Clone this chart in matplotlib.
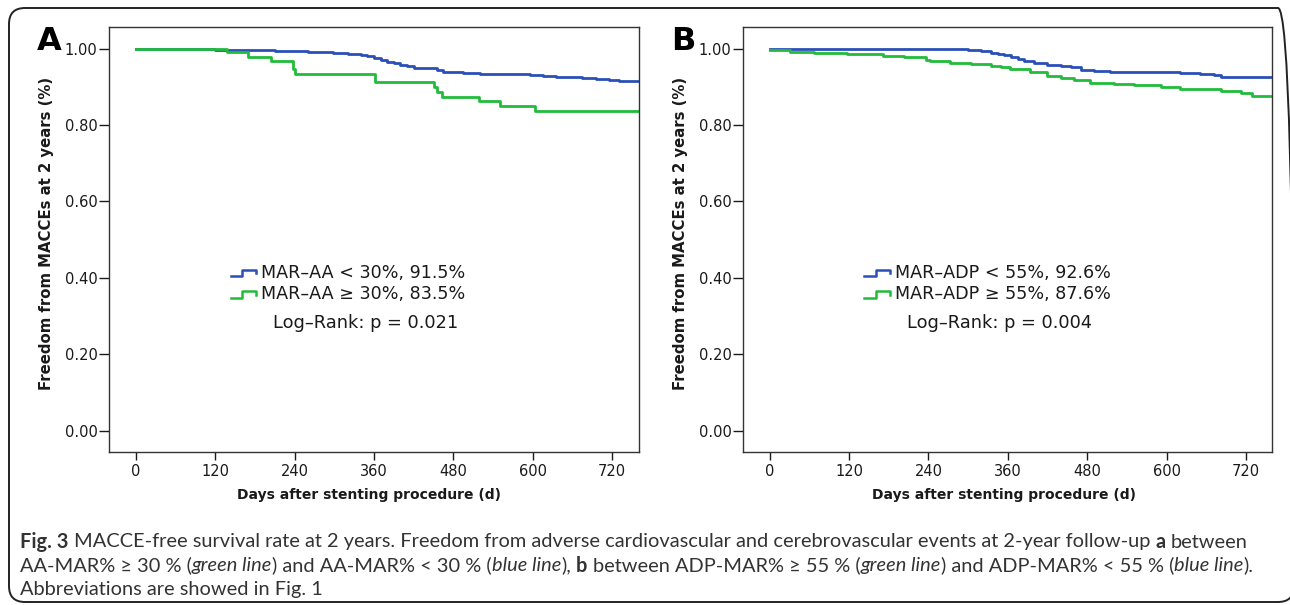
"""
Fig. 3 重绘：两组 Kaplan-Meier 曲线（MACCE-free survival）
"""
import numpy as np
import matplotlib
matplotlib.use('Agg')
import matplotlib.pyplot as plt
from matplotlib.lines import Line2D
from matplotlib.legend_handler import HandlerBase
from matplotlib.patches import FancyBboxPatch
from matplotlib.transforms import IdentityTransform

plt.rcParams['font.family'] = ['DejaVu Sans']

# ==================== 数据 ====================
# A: MAR-AA < 30% (blue) / >= 30% (green)
a_low_days = [0, 60, 120, 160, 210, 260, 298, 320, 340, 350, 360, 370, 380, 390, 400,
              410, 420, 445, 455, 465, 475, 495, 520, 545, 570, 595, 615, 635, 655,
              675, 695, 715, 730, 760]
a_low_surv = [1.000, 0.999, 0.997, 0.996, 0.994, 0.992, 0.990, 0.987, 0.983, 0.980,
              0.976, 0.971, 0.966, 0.962, 0.958, 0.954, 0.950, 0.949, 0.944, 0.940,
              0.938, 0.936, 0.935, 0.934, 0.933, 0.931, 0.929, 0.927, 0.925, 0.923,
              0.920, 0.918, 0.915, 0.915]
a_high_days = [0, 138, 169, 204, 237, 240, 361, 451, 455, 463, 519, 551, 604, 760]
a_high_surv = [1.000, 0.991, 0.979, 0.967, 0.946, 0.935, 0.912, 0.900, 0.887, 0.874,
               0.862, 0.850, 0.836, 0.836]

# B: MAR-ADP < 55% (blue) / >= 55% (green)
b_low_days = [0, 200, 280, 300, 320, 335, 345, 355, 365, 375, 385, 400, 420, 440, 455,
              470, 490, 515, 560, 600, 621, 650, 672, 682, 700, 760]
b_low_surv = [1.000, 0.999, 0.998, 0.996, 0.993, 0.990, 0.987, 0.983, 0.979, 0.974,
              0.969, 0.963, 0.957, 0.955, 0.952, 0.944, 0.942, 0.940, 0.939, 0.938,
              0.937, 0.934, 0.931, 0.927, 0.926, 0.926]
b_high_days = [0, 31, 67, 117, 172, 203, 236, 243, 273, 304, 334, 350, 364, 394, 420,
               440, 460, 485, 520, 551, 591, 621, 682, 712, 730, 760]
b_high_surv = [0.997, 0.992, 0.988, 0.985, 0.982, 0.978, 0.970, 0.967, 0.963, 0.959,
               0.955, 0.951, 0.947, 0.940, 0.929, 0.924, 0.918, 0.911, 0.908, 0.904,
               0.899, 0.894, 0.890, 0.885, 0.876, 0.876]

x_ticks = [0, 120, 240, 360, 480, 600, 720]
y_ticks = [0.0, 0.2, 0.4, 0.6, 0.8, 1.0]

legend_a = ['MAR\u2013AA < 30%, 91.5%', 'MAR\u2013AA \u2265 30%, 83.5%']
legend_b = ['MAR\u2013ADP < 55%, 92.6%', 'MAR\u2013ADP \u2265 55%, 87.6%']
pvals = ['Log\u2013Rank: p = 0.021', 'Log\u2013Rank: p = 0.004']

BLUE = '#2b4fb9'
GREEN = '#22bb3c'
TXT = '#1a1a1a'


class StepHandler(HandlerBase):
    """图例里的小台阶图标"""
    def create_artists(self, legend, orig, xd, yd, w, h, fontsize, trans):
        xs = [xd, xd + w * 0.45, xd + w * 0.45, xd + w, xd + w]
        ys = [yd + h * 0.22, yd + h * 0.22, yd + h * 0.78, yd + h * 0.78, yd + h * 0.45]
        ln = Line2D(xs, ys, color=orig.get_color(), lw=1.8, transform=trans)
        return [ln]


def draw_panel(ax, low_d, low_s, high_d, high_s, labels, ptext, xlab_x):
    ax.step(low_d, low_s, where='post', color=BLUE, lw=2.0)
    ax.step(high_d, high_s, where='post', color=GREEN, lw=2.0)
    ax.set_xlim(-40, 760)
    ax.set_ylim(-0.056, 1.056)
    ax.set_xticks(x_ticks)
    ax.set_yticks(y_ticks)
    ax.set_yticklabels([f'{v:.2f}' for v in y_ticks])
    ax.tick_params(axis='y', length=7, width=1, pad=1.5, labelsize=10.5, colors=TXT)
    ax.tick_params(axis='x', length=6, width=1, pad=3, labelsize=10.5, colors=TXT)
    for s in ax.spines.values():
        s.set_linewidth(1.0)
        s.set_color('#333333')
    ax.set_xlabel('Days after stenting procedure (d)', fontsize=10,
                  fontweight='bold', color=TXT)
    ax.xaxis.set_label_coords(xlab_x, -0.085)
    ax.set_ylabel('Freedom from MACCEs at 2 years (%)', fontsize=10.7,
                  fontweight='bold', color=TXT)
    ax.yaxis.set_label_coords(-0.104, 0.515)

    handles = [Line2D([], [], color=BLUE), Line2D([], [], color=GREEN)]
    leg = ax.legend(handles, labels, loc='upper left', bbox_to_anchor=(0.229, 0.443),
                    frameon=False, fontsize=12.6, handlelength=1.45, handleheight=0.6,
                    handletextpad=0.3, labelspacing=0.2, borderpad=0, borderaxespad=0,
                    handler_map={Line2D: StepHandler()})
    for t in leg.get_texts():
        t.set_color(TXT)
    ax.text(0.485, 0.304, ptext, transform=ax.transAxes, ha='center', va='center',
            fontsize=12.8, color=TXT)


fig = plt.figure(figsize=(12.9, 6.05), dpi=100)
W, H = 1290, 605

ax_a = fig.add_axes([109.3 / W, 1 - 452 / H, 529.4 / W, 424.7 / H])
ax_b = fig.add_axes([743.3 / W, 1 - 452 / H, 529.0 / W, 424.7 / H])
draw_panel(ax_a, a_low_days, a_low_surv, a_high_days, a_high_surv, legend_a, pvals[0], 0.49)
draw_panel(ax_b, b_low_days, b_low_surv, b_high_days, b_high_surv, legend_b, pvals[1], 0.493)

fig.text(37 / W, 1 - 50 / H, 'A', fontsize=23, fontweight='bold', va='baseline', color='black')
fig.text(671 / W, 1 - 50 / H, 'B', fontsize=23, fontweight='bold', va='baseline', color='black')

# 外框（圆角），下边和右边贴着图片边缘
box = FancyBboxPatch((9, 3), 1285, 594, boxstyle='round,pad=0,rounding_size=16',
                     transform=IdentityTransform(), fill=False, ec='#222222', lw=1.4)
fig.patches.append(box)

# ==================== 图注（逐段排版） ====================
CAP_FONT = ['Lato', 'DejaVu Sans']
CAP_COLOR = '#333333'
renderer = fig.canvas.get_renderer()

caption = [
    [('Fig. 3', 'b'),
     (' MACCE-free survival rate at 2 years. Freedom from adverse cardiovascular and '
      'cerebrovascular events at 2-year follow-up ', ''), ('a', 'b'), (' between', '')],
    [('AA-MAR% \u2265 30 % (', ''), ('green line', 'i'), (') and AA-MAR% < 30 % (', ''),
     ('blue line', 'i'), ('), ', ''), ('b', 'b'), (' between ADP-MAR% \u2265 55 % (', ''),
     ('green line', 'i'), (') and ADP-MAR% < 55 % (', ''), ('blue line', 'i'), (').', '')],
    [('Abbreviations are showed in Fig. 1', '')],
]


def style_kw(style):
    if style == 'b':
        return {'fontweight': 'bold'}
    if style == 'i':
        return {'fontstyle': 'italic'}
    return {}


def text_width(s, size, **kw):
    t = fig.text(0, 0, s, fontsize=size, family=CAP_FONT, **kw)
    w = t.get_window_extent(renderer).width
    t.remove()
    return w


def rich_line(x_px, y_px, segments, size, draw=True):
    space_w = text_width('a a', size) - text_width('aa', size)
    x = x_px
    for s, style in segments:
        kw = style_kw(style)
        core = s.strip(' ')
        lead = len(s) - len(s.lstrip(' '))
        trail = len(s) - len(s.rstrip(' '))
        x += lead * space_w
        if core:
            t = fig.text(x / W, 1 - y_px / H, core, fontsize=size, family=CAP_FONT,
                         color=CAP_COLOR, va='center', **kw)
            x += t.get_window_extent(renderer).width
            if not draw:
                t.remove()
        x += trail * space_w
    return x - x_px


# 第一行宽度约 1225 px，按此确定字号
base = 11.0
w0 = rich_line(20, 0, caption[0], base, draw=False)
CAP_SIZE = base * 1225 / w0

for i, segs in enumerate(caption):
    rich_line(20, 542 + i * 23.5, segs, CAP_SIZE)

fig.savefig('out.png', dpi=100)
